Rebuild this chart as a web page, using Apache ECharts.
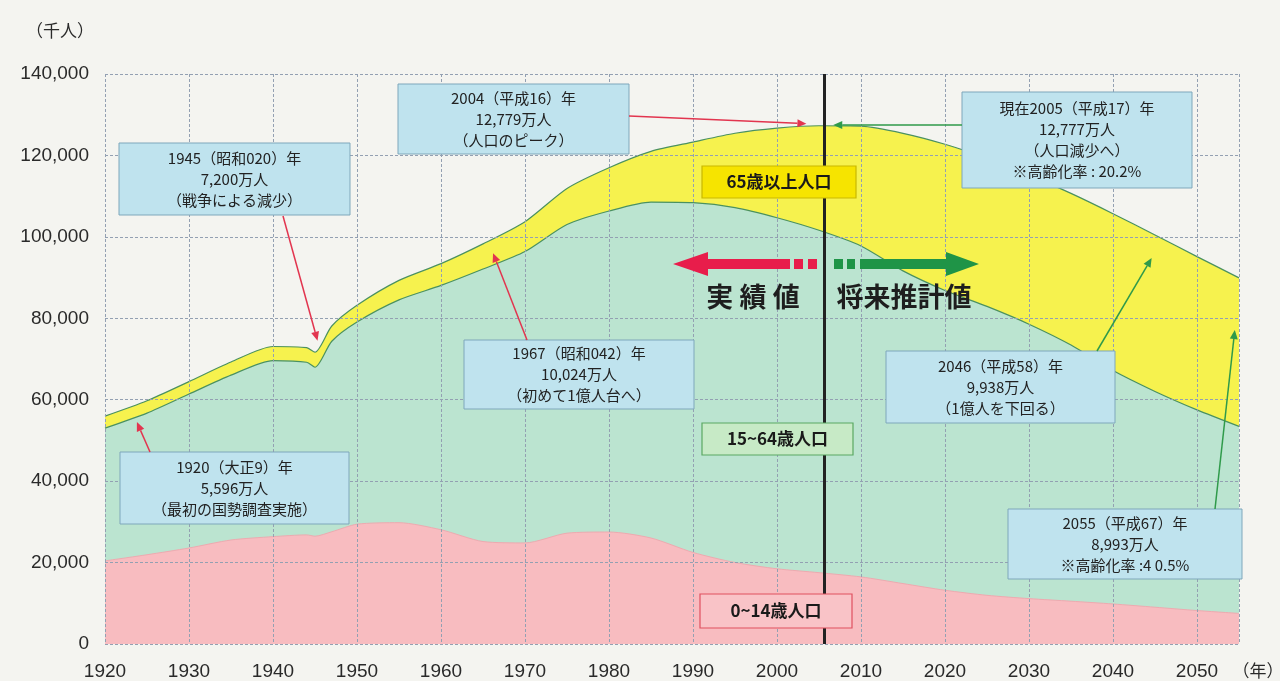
<!DOCTYPE html>
<html>
<head>
<meta charset="utf-8">
<script src="https://cdn.jsdelivr.net/npm/echarts@6/dist/echarts.min.js"></script>
<style>
  html, body {margin: 0; background: #f4f4f0;}
  #main {width: 1280px; height: 681px;}
</style>
</head>
<body>
<div id="main"></div>
<script>
// 年次（国勢調査・将来推計）
const years = [1920, 1925, 1930, 1935, 1940, 1944, 1945, 1947, 1950, 1955, 1960, 1965, 1970, 1975,
  1980, 1985, 1990, 1995, 2000, 2005, 2010, 2015, 2020, 2025, 2030, 2035, 2040, 2045, 2050, 2055];
// 千人
const age0to14 = [20416, 21924, 23579, 25545, 26369, 26800, 26477, 27573, 29428, 29798, 28067, 25166, 24823, 27221,
  27507, 26033, 22486, 20014, 18472, 17521, 16479, 14841, 13201, 11956, 11150, 10512, 9833, 9036, 8214, 7516];
const age15to64 = [32605, 34792, 37807, 40484, 43252, 42400, 41500, 46783, 49658, 54729, 60002, 66928, 71566, 75807,
  78835, 82506, 85904, 87165, 86220, 84092, 81285, 76807, 73635, 70960, 67404, 62919, 57335, 53000, 49297, 45950];
const age65plus = [2941, 3021, 3064, 3225, 3454, 3600, 3700, 3745, 4109, 4786, 5350, 6181, 7331, 8865,
  10647, 12468, 14895, 18261, 22005, 25672, 29412, 33781, 35899, 36354, 36670, 37249, 38527, 38407, 37641, 36463];

const xMin = 1920, xMax = 2055, xStep = 10;
const yMax = 140000, yStep = 20000;
const splitYear = 2005.6; // 実績値 / 将来推計値 の境

const jp = '"Noto Sans CJK JP", sans-serif';
const chart = echarts.init(document.getElementById('main'));

// 積み上げ（x も数値軸なので自前で累積する）
const under65 = age0to14.map((v, i) => v + age15to64[i]);
const total = under65.map((v, i) => v + age65plus[i]);
const pairs = arr => years.map((y, i) => [y, arr[i]]);
const gridLine = {show: true, lineStyle: {color: '#93a0b2', type: [3, 2], width: 1}};

chart.setOption({
  backgroundColor: '#f4f4f0',
  animation: false,
  grid: {left: 105, right: 41, top: 74, bottom: 37, outerBoundsMode: 'none'},
  xAxis: {
    type: 'value', min: xMin, max: xMax, interval: xStep, z: 3,
    axisLine: {show: false}, axisTick: {show: false},
    splitLine: gridLine,
    axisLabel: {
      margin: 18, color: '#2a2a2a', fontSize: 19, fontFamily: 'Liberation Sans',
      formatter: v => (v % xStep === 0 ? String(v) : '')
    }
  },
  yAxis: {
    type: 'value', min: 0, max: yMax, interval: yStep, z: 3,
    axisLine: {show: false}, axisTick: {show: false},
    splitLine: gridLine,
    axisLabel: {margin: 16, color: '#2a2a2a', fontSize: 19, fontFamily: 'Liberation Sans'}
  },
  series: [
    {
      name: '65歳以上人口', type: 'line', data: pairs(total),
      symbol: 'none', smooth: 0.25, z: 2,
      lineStyle: {width: 1.2, color: '#4b9160'},
      areaStyle: {color: '#f6f24e', opacity: 1}
    },
    {
      name: '15~64歳人口', type: 'line', data: pairs(under65),
      symbol: 'none', smooth: 0.25, z: 2,
      lineStyle: {width: 1.2, color: '#4b9160'},
      areaStyle: {color: '#bbe4d0', opacity: 1}
    },
    {
      name: '0~14歳人口', type: 'line', data: pairs(age0to14),
      symbol: 'none', smooth: 0.25, z: 2,
      lineStyle: {width: 1, color: '#eeaab0'},
      areaStyle: {color: '#f8bcc0', opacity: 1}
    },
    {
      type: 'line', data: [], z: 5,
      markLine: {
        silent: true, symbol: 'none', label: {show: false},
        lineStyle: {color: '#222', width: 3, type: 'solid'},
        data: [{xAxis: splitYear}]
      }
    }
  ]
});

const toPx = p => chart.convertToPixel({gridIndex: 0}, p);

function box(x, y, w, h, lines) {
  return [
    {type: 'rect', z: 100, shape: {x, y, width: w, height: h},
      style: {fill: '#bfe3ee', stroke: '#7ea7bb', lineWidth: 1}},
    {type: 'text', z: 101, x: x + w / 2, y: y + h / 2,
      style: {text: lines.join('\n'), fontSize: 15, fontFamily: jp, fill: '#222',
        align: 'center', verticalAlign: 'middle', lineHeight: 21}}
  ];
}

function pointer(from, to, color) {
  const a = Math.atan2(to[1] - from[1], to[0] - from[0]);
  const L = 9, W = 4;
  const bx = to[0] - L * Math.cos(a), by = to[1] - L * Math.sin(a);
  return [
    {type: 'line', z: 100, shape: {x1: from[0], y1: from[1], x2: bx, y2: by},
      style: {stroke: color, lineWidth: 1.5}},
    {type: 'polygon', z: 100,
      shape: {points: [to, [bx - W * Math.sin(a), by + W * Math.cos(a)], [bx + W * Math.sin(a), by - W * Math.cos(a)]]},
      style: {fill: color}}
  ];
}

function tag(x, y, w, h, text, fill, stroke) {
  return [
    {type: 'rect', z: 100, shape: {x, y, width: w, height: h}, style: {fill, stroke, lineWidth: 1.2}},
    {type: 'text', z: 101, x: x + w / 2, y: y + h / 2,
      style: {text, fontSize: 17, fontWeight: 'bold', fontFamily: jp, fill: '#1a1a1a',
        align: 'center', verticalAlign: 'middle'}}
  ];
}

const red = '#e2354f', green = '#2f9a4a';
const bigRed = '#e81d4b', bigGreen = '#1f9447';
const yMid = 264;

const g = [
  {type: 'text', z: 100, x: 60, y: 31, style: {text: '（千人）', fontSize: 17, fontFamily: jp, fill: '#2a2a2a', align: 'center', verticalAlign: 'middle'}},
  {type: 'text', z: 100, x: 1258, y: 671, style: {text: '（年）', fontSize: 17, fontFamily: jp, fill: '#2a2a2a', align: 'center', verticalAlign: 'middle'}},

  ...box(119, 143, 231, 72, ['1945（昭和020）年', '7,200万人', '（戦争による減少）']),
  ...pointer([283, 216], toPx([1945.3, 74500]), red),
  ...box(398, 84, 231, 70, ['2004（平成16）年', '12,779万人', '（人口のピーク）']),
  ...pointer([629, 116], toPx([2003.5, 127800]), red),
  ...box(962, 92, 230, 96, ['現在2005（平成17）年', '12,777万人', '（人口減少へ）', '※高齢化率 : 20.2%']),
  ...pointer([962, 125], toPx([2006.7, 127500]), green),
  ...box(120, 452, 229, 72, ['1920（大正9）年', '5,596万人', '（最初の国勢調査実施）']),
  ...pointer([150, 452], toPx([1923.8, 54500]), red),
  ...box(464, 340, 230, 69, ['1967（昭和042）年', '10,024万人', '（初めて1億人台へ）']),
  ...pointer([527, 340], toPx([1966.2, 96000]), red),
  ...box(886, 351, 229, 72, ['2046（平成58）年', '9,938万人', '（1億人を下回る）']),
  ...pointer([1097, 351], toPx([2044.6, 94800]), green),
  ...box(1008, 509, 234, 70, ['2055（平成67）年', '8,993万人', '※高齢化率 :4 0.5%']),
  ...pointer([1215, 509], toPx([2054.5, 77100]), green),

  ...tag(702, 166, 154, 32, '65歳以上人口', '#f6e400', '#c9b800'),
  ...tag(702, 423, 151, 32, '15~64歳人口', '#c7eac6', '#5aa862'),
  ...tag(700, 594, 152, 34, '0~14歳人口', '#f9c3c7', '#e0505f'),

  // 実績値の矢印
  {type: 'polygon', z: 100, shape: {points: [[673, yMid], [708, yMid - 12], [708, yMid - 5], [790, yMid - 5], [790, yMid + 5], [708, yMid + 5], [708, yMid + 12]]}, style: {fill: bigRed}},
  {type: 'rect', z: 100, shape: {x: 794, y: yMid - 5, width: 9, height: 10}, style: {fill: bigRed}},
  {type: 'rect', z: 100, shape: {x: 808, y: yMid - 5, width: 9, height: 10}, style: {fill: bigRed}},
  // 将来推計値の矢印
  {type: 'rect', z: 100, shape: {x: 834, y: yMid - 5, width: 9, height: 10}, style: {fill: bigGreen}},
  {type: 'rect', z: 100, shape: {x: 847, y: yMid - 5, width: 8, height: 10}, style: {fill: bigGreen}},
  {type: 'polygon', z: 100, shape: {points: [[979, yMid], [946, yMid - 12], [946, yMid - 5], [860, yMid - 5], [860, yMid + 5], [946, yMid + 5], [946, yMid + 12]]}, style: {fill: bigGreen}},

  {type: 'text', z: 100, x: 753, y: 297, style: {text: '実 績 値', fontSize: 27, fontWeight: 'bold', fontFamily: jp, fill: '#1e1e1e', align: 'center', verticalAlign: 'middle'}},
  {type: 'text', z: 100, x: 904, y: 297, style: {text: '将来推計値', fontSize: 27, fontWeight: 'bold', fontFamily: jp, fill: '#1e1e1e', align: 'center', verticalAlign: 'middle'}}
];

chart.setOption({graphic: g});
</script>
</body>
</html>
